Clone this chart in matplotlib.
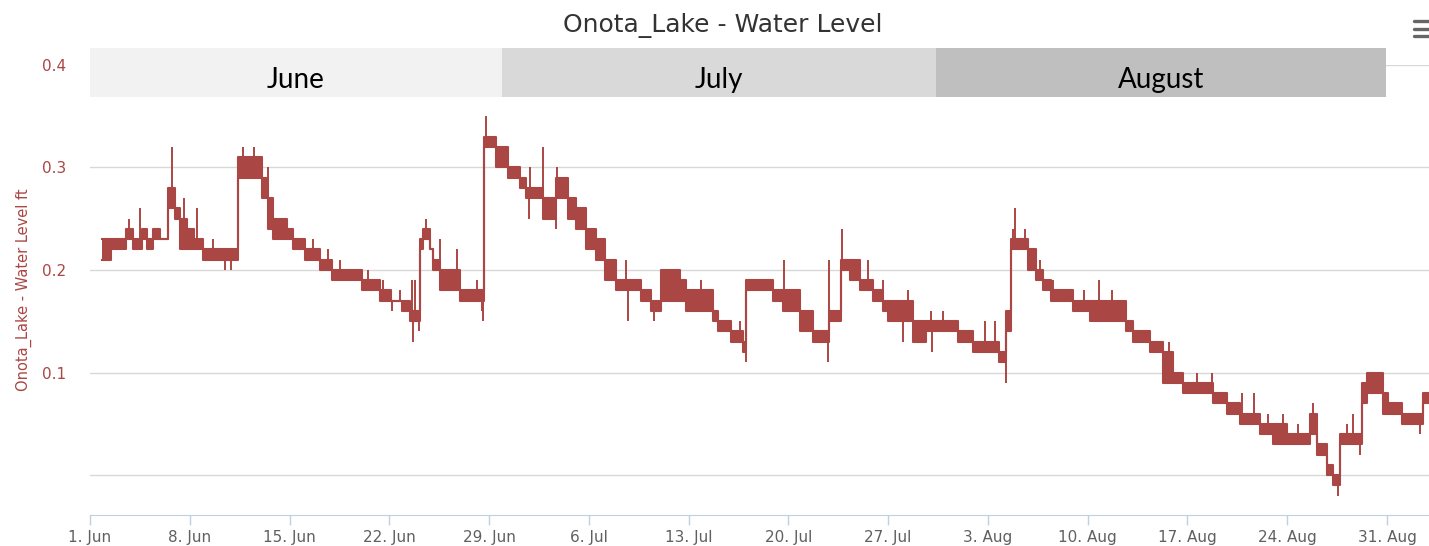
"""Onota_Lake water level, Jun-Aug, Highcharts-style line chart."""
import numpy as np
import matplotlib
matplotlib.use("Agg")
import matplotlib.pyplot as plt
from matplotlib.lines import Line2D

# days since 1 Jun; each segment: water level flickers between lo and hi (ft)
seg_start = [0.82, 1.45, 2.50, 3.04, 3.63, 3.97, 4.44, 4.91, 5.49, 5.96, 6.31, 6.78,
             7.30, 7.95, 10.40, 12.04, 12.51, 12.86, 13.79, 14.26, 15.08, 16.13, 16.95,
             19.05, 20.34, 21.15, 21.86, 22.44, 23.14, 23.38, 23.84, 24.08, 24.54, 25.95,
             27.65, 28.52, 29.34, 30.15, 30.62, 31.79, 32.73, 33.54, 34.13, 34.83, 35.53,
             36.12, 36.93, 38.69, 39.39, 40.09, 41.37, 41.84, 43.72, 44.06, 45.00, 45.82,
             46.05, 47.92, 48.62, 49.79, 50.72, 51.85, 52.70, 53.30, 54.00, 54.93, 55.63,
             55.98, 57.74, 58.67, 60.90, 61.95, 63.80, 64.29, 64.64, 65.81, 66.40, 66.87,
             67.45, 68.98, 70.15, 72.72, 73.19, 74.36, 75.30, 76.00, 76.71, 78.81, 79.75,
             80.69, 82.09, 83.03, 83.97, 85.60, 86.07, 86.77, 87.24, 87.71, 89.23, 89.58,
             90.75, 91.10, 92.04, 93.55]
seg_lo = [0.21, 0.22, 0.23, 0.22, 0.23, 0.22, 0.23, 0.23, 0.26, 0.25, 0.22, 0.22,
          0.22, 0.21, 0.29, 0.27, 0.24, 0.23, 0.23, 0.22, 0.21, 0.20, 0.19,
          0.18, 0.17, 0.17, 0.16, 0.15, 0.22, 0.23, 0.22, 0.20, 0.18, 0.17,
          0.32, 0.30, 0.29, 0.28, 0.27, 0.25, 0.27, 0.25, 0.24, 0.22, 0.21,
          0.19, 0.18, 0.17, 0.16, 0.17, 0.17, 0.16, 0.15, 0.14, 0.13, 0.12,
          0.18, 0.17, 0.16, 0.14, 0.13, 0.15, 0.20, 0.19, 0.18, 0.17, 0.16,
          0.15, 0.13, 0.14, 0.13, 0.12, 0.11, 0.14, 0.22, 0.20, 0.19, 0.18,
          0.17, 0.16, 0.15, 0.14, 0.13, 0.12, 0.09, 0.09, 0.08, 0.07, 0.06,
          0.05, 0.04, 0.03, 0.03, 0.04, 0.02, 0.00, -0.01, 0.03, 0.07, 0.08,
          0.06, 0.06, 0.05, 0.07]
seg_hi = [0.23, 0.23, 0.24, 0.23, 0.24, 0.23, 0.24, 0.23, 0.28, 0.26, 0.25, 0.24,
          0.23, 0.22, 0.31, 0.29, 0.27, 0.25, 0.24, 0.23, 0.22, 0.21, 0.20,
          0.19, 0.18, 0.17, 0.17, 0.16, 0.23, 0.24, 0.22, 0.21, 0.20, 0.18,
          0.33, 0.32, 0.30, 0.29, 0.28, 0.27, 0.29, 0.27, 0.26, 0.24, 0.23,
          0.21, 0.19, 0.18, 0.17, 0.20, 0.19, 0.18, 0.16, 0.15, 0.14, 0.13,
          0.19, 0.18, 0.18, 0.16, 0.14, 0.16, 0.21, 0.21, 0.19, 0.18, 0.17,
          0.17, 0.15, 0.15, 0.14, 0.13, 0.12, 0.16, 0.23, 0.22, 0.20, 0.19,
          0.18, 0.17, 0.17, 0.15, 0.14, 0.13, 0.12, 0.10, 0.09, 0.08, 0.07,
          0.06, 0.05, 0.05, 0.04, 0.06, 0.03, 0.01, 0.00, 0.04, 0.09, 0.10,
          0.08, 0.07, 0.06, 0.08]
end_day = 93.95

# short single-reading spikes / dips (day, ft)
spike_day = [2.73, 3.51, 5.73, 6.62, 7.53, 8.65, 9.46, 9.90, 10.75, 11.50, 12.51, 15.67,
             16.72, 17.53, 19.52, 20.57, 21.22, 21.74, 22.56, 22.68, 22.80, 23.10, 23.60,
             24.54, 25.72, 27.12, 27.47, 27.58, 27.75, 30.79, 30.85, 31.79, 32.70, 32.78,
             37.63, 37.75, 39.60, 42.90, 45.60, 46.00, 48.67, 51.80, 51.88, 52.76, 54.58,
             55.63, 57.04, 57.39, 59.00, 59.05, 59.88, 61.00, 62.77, 63.47, 64.25, 64.75,
             64.92, 65.57, 66.68, 67.57, 69.75, 70.80, 71.74, 72.60, 75.72, 77.65, 78.70,
             80.80, 81.69, 82.67, 83.73, 84.79, 85.79, 87.60, 88.18, 88.65, 89.11, 93.34]
spike_val = [0.25, 0.26, 0.32, 0.27, 0.26, 0.23, 0.20, 0.20, 0.32, 0.32, 0.30, 0.23,
             0.22, 0.21, 0.20, 0.19, 0.16, 0.18, 0.19, 0.13, 0.19, 0.14, 0.25,
             0.23, 0.22, 0.19, 0.16, 0.15, 0.35, 0.25, 0.30, 0.32, 0.24, 0.30,
             0.21, 0.15, 0.15, 0.19, 0.15, 0.11, 0.21, 0.11, 0.21, 0.24, 0.21,
             0.19, 0.13, 0.18, 0.16, 0.12, 0.16, 0.13, 0.15, 0.15, 0.09, 0.24,
             0.26, 0.24, 0.21, 0.19, 0.18, 0.19, 0.18, 0.17, 0.13, 0.10, 0.10,
             0.08, 0.08, 0.06, 0.06, 0.05, 0.07, -0.02, 0.05, 0.06, 0.02, 0.04]

tick_days = [0, 7, 14, 21, 28, 35, 42, 49, 56, 63, 70, 77, 84, 91]
tick_labels = ["1. Jun", "8. Jun", "15. Jun", "22. Jun", "29. Jun", "6. Jul", "13. Jul",
               "20. Jul", "27. Jul", "3. Aug", "10. Aug", "17. Aug", "24. Aug", "31. Aug"]

months = ["June", "July", "August"]
month_start = [0.0, 28.89, 59.33]
month_end = [28.89, 59.33, 90.95]
month_color = ["#f2f2f2", "#d9d9d9", "#bfbfbf"]

RED = "#AA4643"

fig = plt.figure(figsize=(14.29, 5.46), dpi=100)
ax = fig.add_axes([0.063, 0.0568, 0.937, 0.8242])

x = np.append(seg_start, end_day)
lo = np.append(seg_lo, seg_lo[-1])
hi = np.append(seg_hi, seg_hi[-1])
ax.fill_between(x, lo, hi, step="post", color=RED, lw=0, zorder=3)
ax.step(x, lo, where="post", color=RED, lw=1.5, zorder=3)
ax.step(x, hi, where="post", color=RED, lw=1.5, zorder=3)

# spikes start from the middle of the band they sit on
idx = np.searchsorted(seg_start, spike_day, side="right") - 1
base = (np.array(seg_lo)[idx] + np.array(seg_hi)[idx]) / 2
ax.vlines(spike_day, base, spike_val, color=RED, lw=1.4, zorder=3)

ax.set_xlim(0, end_day)
ax.set_ylim(-0.039, 0.4)
ax.set_yticks([0.0, 0.1, 0.2, 0.3, 0.4])
ax.set_yticklabels(["", "0.1", "0.2", "0.3", "0.4"])
ax.grid(axis="y", color="#d8d8d8", lw=1, zorder=0)
ax.tick_params(axis="y", length=0, pad=17, labelsize=11, labelcolor=RED)
ax.set_xticks(tick_days)
ax.set_xticklabels(tick_labels)
ax.tick_params(axis="x", direction="out", length=7.5, width=1, color="#C0D0E0",
               labelsize=11, labelcolor="#606060", pad=3)
for s in ["top", "right", "left"]:
    ax.spines[s].set_visible(False)
ax.spines["bottom"].set_color("#C0D0E0")
ax.set_ylabel("Onota_Lake - Water Level ft", color=RED, fontsize=10.5, labelpad=7)

# month annotation bands above the plot
for name, a, b, c in zip(months, month_start, month_end, month_color):
    ax.fill_between([a, b], 0.3688, 0.4166, color=c, lw=0, clip_on=False, zorder=4)
    ax.text((a + b) / 2, 0.3776, name, ha="center", va="baseline", fontsize=20,
            family=["Lato", "DejaVu Sans"], color="black", zorder=5, clip_on=False)

fig.text(0.506, 0.9414, "Onota_Lake - Water Level", ha="center", va="baseline",
         fontsize=18, color="#333333")

# export menu icon
for yy in [0.961, 0.947, 0.934]:
    fig.add_artist(Line2D([0.9895, 1.0], [yy, yy], color="#666666", lw=2.4,
                          solid_capstyle="round"))

fig.savefig("out.png", dpi=100)
